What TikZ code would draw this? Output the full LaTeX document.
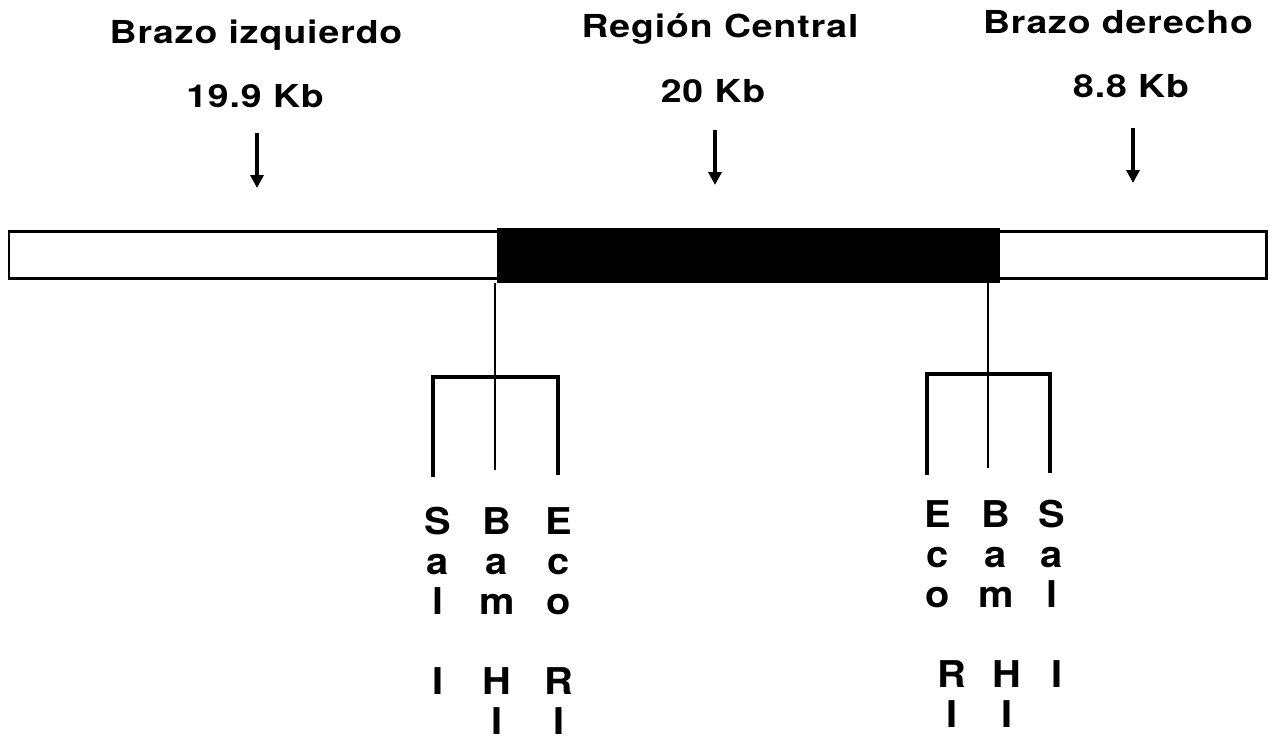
\documentclass[tikz,border=0pt]{standalone}
\usepackage{fontspec}
\newfontfamily\headfont[FakeStretch=1.18,LetterSpace=3]{TeX Gyre Heros Bold}
\newfontfamily\sitefont[FakeStretch=1.08]{TeX Gyre Heros Bold}
\usetikzlibrary{arrows.meta}

\begin{document}
\begin{tikzpicture}[x=0.02cm,y=-0.02cm,
  head/.style={font=\headfont\fontsize{18}{20}\selectfont,anchor=base,inner sep=0},
  site/.style={font=\sitefont\fontsize{21}{22.76}\selectfont,align=center,anchor=north,inner sep=0},
  pointer/.style={-{Triangle[width=0.26cm,length=0.26cm]},line width=2.1pt},
  stem/.style={line width=1.6pt},
  leg/.style={line width=2.8pt}]
\def\gap{0.8cm}
\useasboundingbox (0,0) rectangle (1287,735);
\clip (0,0) rectangle (1287,735);
\node[head] (armL) at (256,43) {Brazo izquierdo};
\node[head] (kbL) at (255,107) {19.9 Kb};
\node[head] (core) at (720,37) {Región Central};
\node[head] (kbC) at (713,102) {20 Kb};
\node[head] (armR) at (1118,33) {Brazo derecho};
\node[head] (kbR) at (1131,97) {8.8 Kb};
\coordinate (ptL) at (257,133);
\coordinate (ptC) at (715,130);
\coordinate (ptR) at (1133,128);
\draw[pointer] (ptL) -- ++(0,55);
\draw[pointer] (ptC) -- ++(0,55);
\draw[pointer] (ptR) -- ++(0,55);
\draw[line width=1.7pt] (9,231) rectangle (1266,278);
\fill (497,228) rectangle (1000,283);
\coordinate (cutL) at (495,283);
\coordinate (cutR) at (988,283);
\draw[stem] (cutL) -- (495,470);
\draw[stem] (cutR) -- (988,468);
\draw[leg] (433,477) -- (433,377) -- (558,377) -- (558,475);
\draw[leg] (927,475) -- (927,374) -- (1050,374) -- (1050,473);
\node[site] (salL) at (438,507) {S\\a\\l\\[\gap]I};
\node[site] (bamL) at (497,507) {B\\a\\m\\[\gap]H\\I};
\node[site] (ecoL) at (559,507) {E\\c\\o\\[\gap]R\\I};
\node[site] (ecoR) at (938,500) {E\\c\\o\\[\gap]\kern0.55cm R\\\kern0.55cm I};
\node[site] (bamR) at (996,500) {B\\a\\m\\[\gap]\kern0.45cm H\\\kern0.45cm I};
\node[site] (salR) at (1052,500) {S\\a\\l\\[\gap]\kern0.2cm I};
\end{tikzpicture}
\end{document}
